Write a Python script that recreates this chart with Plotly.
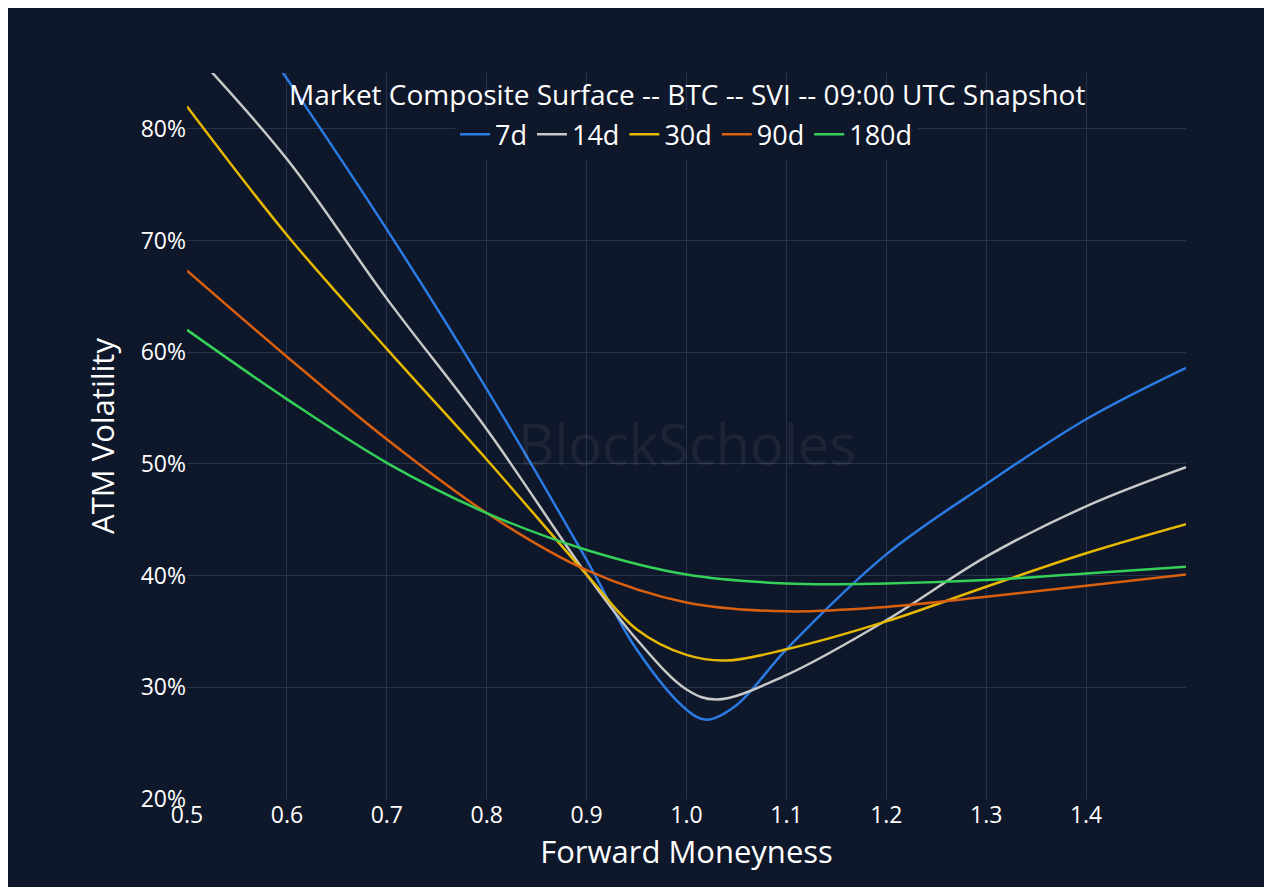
import plotly.graph_objects as go

x_7d = [0.5, 0.55, 0.6, 0.7, 0.8, 0.9, 0.95, 1.0, 1.02, 1.05, 1.1, 1.2, 1.3, 1.4, 1.5]
y_7d = [98, 91, 84.5, 71, 56.7, 41.4, 33.4, 28, 27.1, 28.4, 33.4, 41.9, 48.2, 54, 58.6]
x_14d = [0.5, 0.6, 0.7, 0.8, 0.9, 0.95, 1.0, 1.03, 1.1, 1.2, 1.3, 1.4, 1.5]
y_14d = [87.5, 77.3, 64.8, 53.1, 40.1, 34.3, 29.8, 28.9, 31.1, 36, 41.7, 46.2, 49.7]
x_30d = [0.5, 0.6, 0.7, 0.8, 0.9, 0.95, 1.0, 1.04, 1.1, 1.2, 1.3, 1.4, 1.5]
y_30d = [82, 70.5, 60.3, 50.4, 40.1, 35.2, 32.9, 32.4, 33.4, 35.9, 39, 42, 44.6]
x_90d = [0.5, 0.6, 0.7, 0.8, 0.9, 1.0, 1.1, 1.2, 1.3, 1.4, 1.5]
y_90d = [67.3, 59.6, 52.2, 45.6, 40.5, 37.6, 36.8, 37.2, 38.1, 39.1, 40.1]
x_180d = [0.5, 0.6, 0.7, 0.8, 0.9, 1.0, 1.1, 1.2, 1.3, 1.4, 1.5]
y_180d = [62, 55.8, 50.1, 45.6, 42.3, 40.1, 39.3, 39.3, 39.6, 40.2, 40.8]
y_ticks = [20, 30, 40, 50, 60, 70, 80]
y_labels = ["20%", "30%", "40%", "50%", "60%", "70%", "80%"]
x_ticks = [0.5, 0.6, 0.7, 0.8, 0.9, 1.0, 1.1, 1.2, 1.3, 1.4]
x_labels = ["0.5", "0.6", "0.7", "0.8", "0.9", "1.0", "1.1", "1.2", "1.3", "1.4"]

series = [("7d", x_7d, y_7d, "#2b7be4"), ("14d", x_14d, y_14d, "#c8c8c8"),
          ("30d", x_30d, y_30d, "#e6b800"), ("90d", x_90d, y_90d, "#d9600f"),
          ("180d", x_180d, y_180d, "#34d058")]

fig = go.Figure()
for name, xs, ys, c in series:
    fig.add_trace(go.Scatter(x=xs, y=ys, name=name, mode="lines",
                             line=dict(color=c, width=2.5, shape="spline", smoothing=1.0)))

bg = "#0f172a"
fig.update_layout(
    width=1272, height=887, paper_bgcolor=bg, plot_bgcolor=bg,
    font=dict(family="Open Sans", color="#ffffff", size=23),
    margin=dict(l=179, r=94, t=65, b=96),
    showlegend=True,
    legend=dict(orientation="h", x=0.5, xanchor="center", y=0.915, yanchor="middle",
                bgcolor=bg, font=dict(size=27)),
    annotations=[
        dict(text="Market Composite Surface -- BTC -- SVI -- 09:00 UTC Snapshot",
             x=0.5, y=1.0, xref="paper", yref="paper", showarrow=False,
             font=dict(size=28, color="#ffffff")),
        dict(text="BlockScholes", x=0.5, y=0.49, xref="paper", yref="paper",
             showarrow=False, font=dict(size=56, color="rgba(255,255,255,0.06)"))],
)
fig.update_xaxes(range=[0.5, 1.5], tickvals=x_ticks, ticktext=x_labels,
                 gridcolor="#26334f", zeroline=False, showline=False,
                 title=dict(text="Forward Moneyness", font=dict(size=31), standoff=12))
fig.update_yaxes(range=[20, 85], tickvals=y_ticks, ticktext=y_labels,
                 gridcolor="#26334f", zeroline=False, showline=False,
                 title=dict(text="ATM Volatility", font=dict(size=31), standoff=16))
fig.write_html("out.html")
